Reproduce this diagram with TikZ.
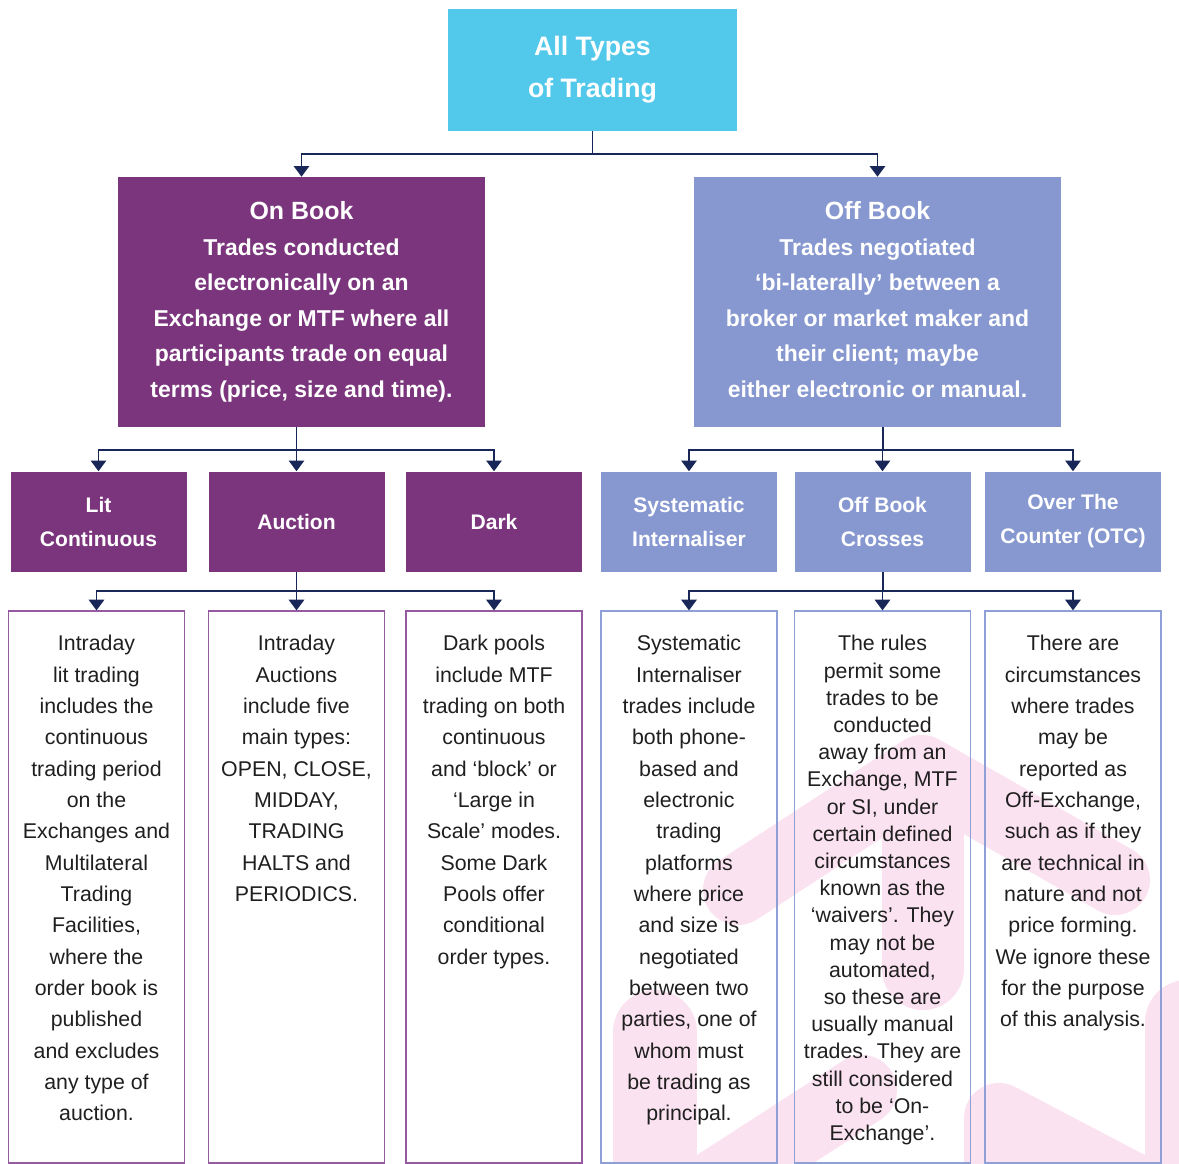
\documentclass[tikz,border=0pt]{standalone}
\usepackage{fontspec}
\setmainfont{Liberation Sans}
\usetikzlibrary{arrows.meta}

\definecolor{allcyan}{RGB}{82,200,235}
\definecolor{onpurple}{RGB}{123,53,125}
\definecolor{offblue}{RGB}{135,152,208}
\definecolor{linknavy}{RGB}{24,38,88}
\definecolor{markpink}{RGB}{251,226,240}
\definecolor{onframe}{RGB}{150,90,160}
\definecolor{offframe}{RGB}{143,160,214}

\begin{document}
\begin{tikzpicture}[
        % 1 unit = 1 pixel of the layout
        x=0.75pt, y=-0.75pt,
        headbox/.style={
            fill=allcyan, text=white, align=center, inner sep=0pt,
            minimum width=289*0.75pt, minimum height=122*0.75pt,
            font=\bfseries\fontsize{20}{31.5}\selectfont
        },
        bookbox/.style={
            fill=#1, text=white, align=center, inner sep=0pt,
            minimum width=367*0.75pt, minimum height=250*0.75pt,
            font=\bfseries\fontsize{17.2}{26.6}\selectfont
        },
        typebox/.style={
            fill=#1, text=white, align=center, inner sep=0pt,
            minimum width=176*0.75pt, minimum height=100*0.75pt,
            font=\bfseries\fontsize{15.8}{25.5}\selectfont
        },
        descbox/.style={
            draw=#1, line width=0.9pt, inner sep=0pt,
            minimum width=176*0.75pt, minimum height=552*0.75pt
        },
        desctext/.style={
            anchor=north, align=center, inner sep=0pt, text=black!88,
            font=\fontsize{16}{23.5}\selectfont
        },
        % connectors
        trunk/.style={draw=linknavy, line width=1.4pt},
        link/.style={trunk, -{Triangle[width=11.5pt,length=8pt]}},
        markband/.style={draw=markpink, line cap=round, line join=round}
    ]
        \useasboundingbox (0,0) rectangle (1179,1164);

        % --- 0. pale logo behind the lower right columns ---
        \begin{scope}
            \clip (0,0) rectangle (1179,1164);
            \draw[markband, line width=84*0.75pt] (655,1032) -- (655,1220);
            \draw[markband, line width=70*0.75pt] (715,1185) -- (862,1090);
            \draw[markband, line width=70*0.75pt] (738,890) -- (922,770) -- (1115,880);
            \draw[markband, line width=82*0.75pt] (923,790) -- (923,969);
            \draw[markband, line width=70*0.75pt] (999,1220) -- (999,1118) -- (1140,1192);
            \draw[markband, line width=84*0.75pt] (1187,1022) -- (1187,1220);
        \end{scope}

        % --- 1. top level ---
        \node[headbox] (alltypes) at (592.5,70) {All Types\\of Trading};

        \node[bookbox=onpurple] (onbook) at (301.5,302)
            {{\fontsize{18.7}{26.6}\selectfont On Book}\\Trades conducted\\electronically on an\\Exchange or MTF where all\\participants trade on equal\\terms (price, size and time).};
        \node[bookbox=offblue] (offbook) at (877.5,302)
            {{\fontsize{18.7}{26.6}\selectfont Off Book}\\Trades negotiated\\‘bi-laterally’ between a\\broker or market maker and\\their client; maybe\\either electronic or manual.\vphantom{()}};

        % --- 2. types of trading ---
        \node[typebox=onpurple] (lit) at (98.5,521.5) {Lit\\Continuous};
        \node[typebox=onpurple] (auction) at (296.5,521.5) {Auction};
        \node[typebox=onpurple] (dark) at (494,521.5) {Dark};
        \node[typebox=offblue] (sysint) at (689,521.5) {Systematic\\Internaliser};
        \node[typebox=offblue] (crosses) at (882.5,521.5) {Off Book\\Crosses};
        \node[typebox=offblue] (otc) at (1073,521.5) {Over The\\Counter (OTC)};

        % --- 3. description columns ---
        \node[descbox=onframe] (litdesc) at (96.5,887) {};
        \node[descbox=onframe] (auctiondesc) at (296.5,887) {};
        \node[descbox=onframe] (darkdesc) at (494,887) {};
        \node[descbox=offframe] (sysdesc) at (689,887) {};
        \node[descbox=offframe] (crossdesc) at (882.5,887) {};
        \node[descbox=offframe] (otcdesc) at (1073,887) {};

        \node[desctext] (littext) at ([yshift=-18.5pt]litdesc.north)
            {Intraday\\lit trading\\includes the\\continuous\\trading period\\on the\\Exchanges and\\Multilateral\\Trading\\Facilities,\\where the\\order book is\\published\\and excludes\\any type of\\auction.};
        \node[desctext] (auctiontext) at ([yshift=-18.5pt]auctiondesc.north)
            {Intraday\\Auctions\\include five\\main types:\\OPEN, CLOSE,\\MIDDAY,\\TRADING\\HALTS and\\PERIODICS.};
        \node[desctext] (darktext) at ([yshift=-18.5pt]darkdesc.north)
            {Dark pools\\include MTF\\trading on both\\continuous\\and ‘block’ or\\‘Large in\\Scale’ modes.\\Some Dark\\Pools offer\\conditional\\order types.};
        \node[desctext] (systext) at ([yshift=-18.5pt]sysdesc.north)
            {Systematic\\Internaliser\\trades include\\both phone-\\based and\\electronic\\trading\\platforms\\where price\\and size is\\negotiated\\between two\\parties, one of\\whom must\\be trading as\\principal.};
        \node[desctext, font=\fontsize{16}{20.4}\selectfont] (crosstext) at ([yshift=-18.5pt]crossdesc.north)
            {The rules\\permit some\\trades to be\\conducted\\away from an\\Exchange, MTF\\or SI, under\\certain defined\\circumstances\\known as the\\‘waivers’. They\\may not be\\automated,\\so these are\\usually manual\\trades. They are\\still considered\\to be ‘On-\\Exchange’.};
        \node[desctext] (otctext) at ([yshift=-18.5pt]otcdesc.north)
            {There are\\circumstances\\where trades\\may be\\reported as\\Off-Exchange,\\such as if they\\are technical in\\nature and not\\price forming.\\We ignore these\\for the purpose\\of this analysis.};

        % --- 4. connectors ---
        \coordinate (topfork) at (592.5,154);
        \coordinate (onfork) at (296.5,450);
        \coordinate (offfork) at (883,450);
        \coordinate (litfork) at (296.5,591);
        \coordinate (crossfork) at (883,591);

        \draw[trunk] (alltypes.south) -- (topfork);
        \draw[link] (topfork) -| (onbook.north);
        \draw[link] (topfork) -| (offbook.north);

        \draw[trunk] (onbook.south -| onfork) -- (onfork);
        \draw[link] (onfork) -| (lit.north);
        \draw[link] (onfork) -- (auction.north);
        \draw[link] (onfork) -| (dark.north);

        \draw[trunk] (offbook.south -| offfork) -- (offfork);
        \draw[link] (offfork) -| (sysint.north);
        \draw[link] (offfork) -| (crosses.north);
        \draw[link] (offfork) -| (otc.north);

        \draw[trunk] (auction.south) -- (litfork);
        \draw[link] (litfork) -| (litdesc.north);
        \draw[link] (litfork) -- (auctiondesc.north);
        \draw[link] (litfork) -| (darkdesc.north);

        \draw[trunk] (crosses.south -| crossfork) -- (crossfork);
        \draw[link] (crossfork) -| (sysdesc.north);
        \draw[link] (crossfork) -| (crossdesc.north);
        \draw[link] (crossfork) -| (otcdesc.north);
    \end{tikzpicture}
\end{document}
